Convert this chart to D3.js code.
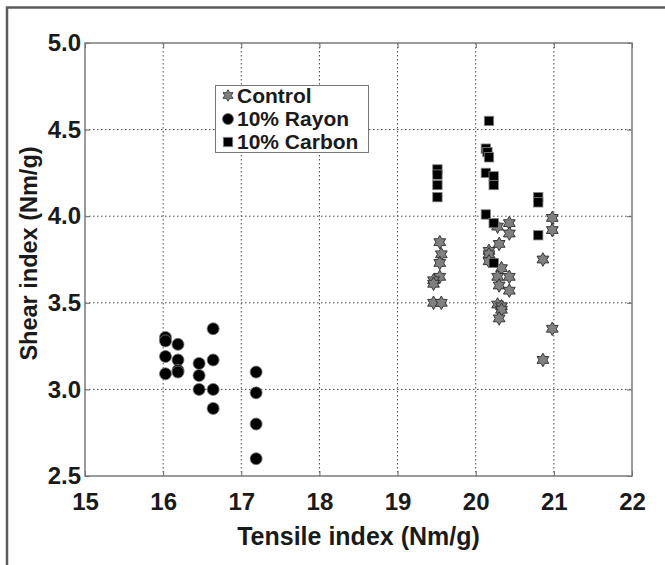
<!DOCTYPE html>
<html>
<head>
<meta charset="utf-8">
<script src="https://cdn.jsdelivr.net/npm/d3@7"></script>
<style>
    html, body { margin: 0; padding: 0; background: #fff; }
    svg { display: block; font-family: 'Liberation Sans', Arial, sans-serif; }
</style>
</head>
<body>
<svg id="chart" width="665" height="565"></svg>
<script>
const X_TICKS = [15, 16, 17, 18, 19, 20, 21, 22];
const Y_TICKS = [2.5, 3.0, 3.5, 4.0, 4.5, 5.0];
const X_TITLE = 'Tensile index (Nm/g)';
const Y_TITLE = 'Shear index (Nm/g)';

const SERIES_NAMES = ['Control', '10% Rayon', '10% Carbon'];

// [tensile, shear]
const controlPoints = [
    [19.54, 3.85], [19.56, 3.78], [19.54, 3.73], [19.54, 3.65], [19.46, 3.63], [19.46, 3.61],
    [19.46, 3.50], [19.56, 3.50],
    [20.28, 3.94], [20.43, 3.96], [20.43, 3.90], [20.30, 3.84], [20.17, 3.80], [20.17, 3.78],
    [20.17, 3.74], [20.33, 3.70], [20.28, 3.65], [20.43, 3.65], [20.30, 3.60], [20.43, 3.57],
    [20.28, 3.49], [20.33, 3.48], [20.33, 3.46], [20.30, 3.41],
    [20.98, 3.99], [20.98, 3.92], [20.86, 3.75], [20.98, 3.35], [20.86, 3.17]
];

const rayonPoints = [
    [16.03, 3.30], [16.03, 3.28], [16.03, 3.19], [16.03, 3.09],
    [16.19, 3.26], [16.19, 3.17], [16.19, 3.11], [16.19, 3.10],
    [16.46, 3.15], [16.46, 3.08], [16.46, 3.00],
    [16.64, 3.35], [16.64, 3.17], [16.64, 3.00], [16.64, 2.89],
    [17.19, 3.10], [17.19, 2.98], [17.19, 2.80], [17.19, 2.60]
];

const carbonPoints = [
    [19.51, 4.27], [19.51, 4.24], [19.51, 4.18], [19.51, 4.11],
    [20.17, 4.55], [20.13, 4.39], [20.15, 4.37], [20.17, 4.34], [20.13, 4.25],
    [20.23, 4.23], [20.23, 4.18], [20.13, 4.01], [20.23, 3.96], [20.23, 3.73],
    [20.80, 4.11], [20.80, 4.08], [20.80, 3.89]
];

const MARGIN = { left: 85, top: 43, right: 632, bottom: 476 };
const FONT_SIZE = 24;

const svg = d3.select('#chart');

const xScale = d3.scaleLinear().domain([15, 22]).range([MARGIN.left, MARGIN.right]);
const yScale = d3.scaleLinear().domain([2.5, 5.0]).range([MARGIN.bottom, MARGIN.top]);

// outer figure frame (top and left edges only visible)
svg.append('path')
    .attr('d', 'M7,565 L7,7.5 L665,7.5')
    .attr('fill', 'none')
    .attr('stroke', '#5c5c5c')
    .attr('stroke-width', 2.5);

// grid
const grid = svg.append('g').attr('stroke', '#444').attr('stroke-width', 1)
    .attr('stroke-dasharray', '1.5,2.5');
grid.selectAll('.vgrid')
    .data(X_TICKS.slice(1, -1))
    .join('line')
    .attr('x1', d => xScale(d)).attr('x2', d => xScale(d))
    .attr('y1', MARGIN.top).attr('y2', MARGIN.bottom);
grid.selectAll('.hgrid')
    .data(Y_TICKS.slice(1, -1))
    .join('line')
    .attr('y1', d => yScale(d)).attr('y2', d => yScale(d))
    .attr('x1', MARGIN.left).attr('x2', MARGIN.right);

// axes (ticks inward on all four sides)
const styleAxis = g => {
    g.select('.domain').remove();
    g.selectAll('.tick line').attr('stroke', '#666').attr('stroke-width', 1);
    g.selectAll('.tick text')
        .attr('font-size', FONT_SIZE)
        .attr('font-weight', 'bold')
        .attr('fill', '#1a1a1a');
};

svg.append('g')
    .attr('transform', `translate(0,${MARGIN.bottom})`)
    .call(d3.axisBottom(xScale).tickValues(X_TICKS).tickFormat(d3.format('d'))
        .tickSizeInner(-5).tickSizeOuter(0).tickPadding(17))
    .call(styleAxis);

svg.append('g')
    .attr('transform', `translate(0,${MARGIN.top})`)
    .call(d3.axisTop(xScale).tickValues(X_TICKS).tickFormat('').tickSizeInner(-5).tickSizeOuter(0))
    .call(styleAxis);

svg.append('g')
    .attr('transform', `translate(${MARGIN.left},0)`)
    .call(d3.axisLeft(yScale).tickValues(Y_TICKS).tickFormat(d3.format('.1f'))
        .tickSizeInner(-5).tickSizeOuter(0).tickPadding(4))
    .call(styleAxis);

svg.append('g')
    .attr('transform', `translate(${MARGIN.right},0)`)
    .call(d3.axisRight(yScale).tickValues(Y_TICKS).tickFormat('').tickSizeInner(-5).tickSizeOuter(0))
    .call(styleAxis);

// plot box
svg.append('rect')
    .attr('x', MARGIN.left).attr('y', MARGIN.top)
    .attr('width', MARGIN.right - MARGIN.left)
    .attr('height', MARGIN.bottom - MARGIN.top)
    .attr('fill', 'none')
    .attr('stroke', '#7a7a7a')
    .attr('stroke-width', 1.5);

// axis titles
svg.append('text')
    .attr('x', (MARGIN.left + MARGIN.right) / 2)
    .attr('y', 545)
    .attr('text-anchor', 'middle')
    .attr('font-size', 25)
    .attr('font-weight', 'bold')
    .attr('fill', '#1a1a1a')
    .text(X_TITLE);

svg.append('text')
    .attr('transform', `translate(37,${(MARGIN.top + MARGIN.bottom) / 2 - 6}) rotate(-90)`)
    .attr('text-anchor', 'middle')
    .attr('font-size', 23.5)
    .attr('font-weight', 'bold')
    .attr('fill', '#1a1a1a')
    .text(Y_TITLE);

// markers
const hexagramPath = r => {
    const inner = r / Math.sqrt(3);
    const pts = d3.range(12).map(i => {
        const a = -Math.PI / 2 + i * Math.PI / 6;
        const rr = i % 2 === 0 ? r : inner;
        return [rr * Math.cos(a), rr * Math.sin(a)];
    });
    return 'M' + pts.map(p => p.join(',')).join('L') + 'Z';
};

const drawStars = (sel, data) => sel.selectAll('.star')
    .data(data)
    .join('path')
    .attr('class', 'star')
    .attr('transform', d => `translate(${xScale(d[0])},${yScale(d[1])})`)
    .attr('d', hexagramPath(6.8))
    .attr('fill', '#808080')
    .attr('stroke', '#2a2a2a')
    .attr('stroke-width', 0.9);

const drawCircles = (sel, data) => sel.selectAll('.dot')
    .data(data)
    .join('circle')
    .attr('class', 'dot')
    .attr('cx', d => xScale(d[0]))
    .attr('cy', d => yScale(d[1]))
    .attr('r', 6)
    .attr('fill', '#000')
    .attr('stroke', '#777')
    .attr('stroke-width', 0.8);

const drawSquares = (sel, data) => sel.selectAll('.sq')
    .data(data)
    .join('rect')
    .attr('class', 'sq')
    .attr('x', d => xScale(d[0]) - 4.7)
    .attr('y', d => yScale(d[1]) - 4.7)
    .attr('width', 9.4)
    .attr('height', 9.4)
    .attr('fill', '#000')
    .attr('stroke', '#888')
    .attr('stroke-width', 0.8);

const points = svg.append('g');
drawStars(points.append('g'), controlPoints);
drawCircles(points.append('g'), rayonPoints);
drawSquares(points.append('g'), carbonPoints);

// legend
const legend = svg.append('g');
legend.append('rect')
    .attr('x', 215.5).attr('y', 85.5)
    .attr('width', 153).attr('height', 67)
    .attr('fill', '#fff')
    .attr('stroke', '#777')
    .attr('stroke-width', 1);

const LEGEND_ROWS = [95.5, 119, 142];
const markerX = 228;
drawStars(legend.append('g'), [[xScale.invert(markerX), yScale.invert(LEGEND_ROWS[0])]])
    .attr('transform', `translate(${markerX},${LEGEND_ROWS[0]}) scale(0.85)`);
drawCircles(legend.append('g'), [[xScale.invert(markerX), yScale.invert(LEGEND_ROWS[1])]])
    .attr('r', 5.5);
drawSquares(legend.append('g'), [[xScale.invert(markerX), yScale.invert(LEGEND_ROWS[2])]]);

legend.selectAll('.label')
    .data(SERIES_NAMES)
    .join('text')
    .attr('class', 'label')
    .attr('x', 237)
    .attr('y', (d, i) => LEGEND_ROWS[i] + 7.3)
    .attr('font-size', 21)
    .attr('font-weight', 'bold')
    .attr('fill', '#1a1a1a')
    .text(d => d);
</script>
</body>
</html>
